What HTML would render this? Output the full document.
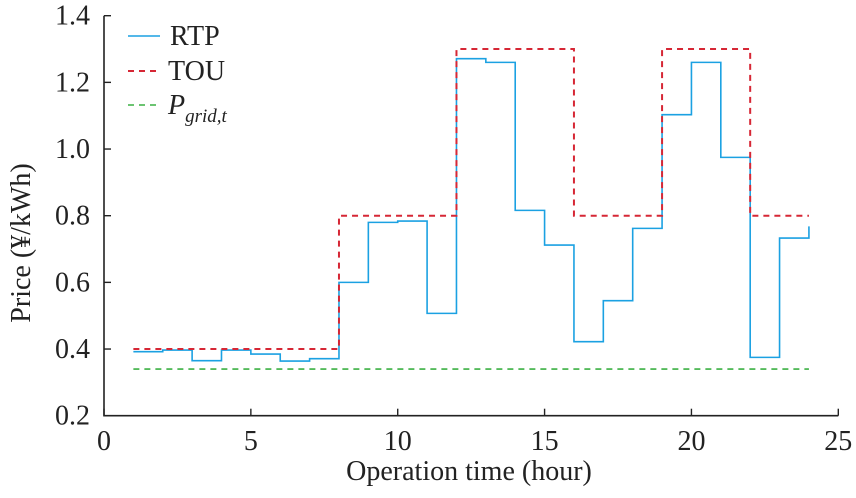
<!DOCTYPE html>
<html><head><meta charset="utf-8"><style>
html,body{margin:0;padding:0;background:#fff;}
svg text{font-family:"Liberation Serif","Times New Roman",Times,serif;}
</style></head><body>
<svg id="chart" width="856" height="493" viewBox="0 0 856 493" font-family="Liberation Serif, Times New Roman, serif">
<g id="axes"></g>
<g id="series"></g>
<g id="legend">
  <line x1="128" y1="36" x2="160" y2="36" stroke="#1ba1e2" stroke-width="1.6"/>
  <text x="170" y="45" font-size="28" fill="#222">RTP</text>
  <line x1="128" y1="71" x2="160" y2="71" stroke="#d62735" stroke-width="2" stroke-dasharray="6,5"/>
  <text x="168" y="80" font-size="28" fill="#222">TOU</text>
  <line x1="128" y1="105" x2="160" y2="105" stroke="#3cb043" stroke-width="1.6" stroke-dasharray="6,5"/>
  <text x="168" y="114" font-size="28" font-style="italic" fill="#222">P<tspan font-size="19" dy="8">grid,t</tspan></text>
</g>
<text x="469" y="480" font-size="28" text-anchor="middle" fill="#222">Operation time (hour)</text>
<text transform="translate(30,243) rotate(-90)" font-size="28" text-anchor="middle" fill="#222">Price (¥/kWh)</text>
</svg>
<script>
const hours = [1,2,3,4,5,6,7,8,9,10,11,12,13,14,15,16,17,18,19,20,21,22,23,24];
const rtp = [0.392,0.397,0.365,0.397,0.385,0.364,0.371,0.600,0.780,0.784,0.507,1.271,1.260,0.816,0.712,0.422,0.545,0.762,1.103,1.260,0.975,0.375,0.733,0.768];
const tou = [0.4,0.4,0.4,0.4,0.4,0.4,0.4,0.8,0.8,0.8,0.8,1.3,1.3,1.3,1.3,0.8,0.8,0.8,1.3,1.3,1.3,0.8,0.8,0.8];
const gridPrice = [0.34,0.34,0.34,0.34,0.34,0.34,0.34,0.34,0.34,0.34,0.34,0.34,0.34,0.34,0.34,0.34,0.34,0.34,0.34,0.34,0.34,0.34,0.34,0.34];
const xTicks = [0,5,10,15,20,25];
const yTicks = [0.2,0.4,0.6,0.8,1.0,1.2,1.4];

const NS = "http://www.w3.org/2000/svg";
const X0 = 104, X1 = 838.3, Y0 = 415.7, Y1 = 15.7;
const xMin = 0, xMax = 25, yMin = 0.2, yMax = 1.4;
function sx(v){ return X0 + (v - xMin) / (xMax - xMin) * (X1 - X0); }
function sy(v){ return Y0 - (v - yMin) / (yMax - yMin) * (Y0 - Y1); }

const axes = document.getElementById('axes');
const series = document.getElementById('series');
function mk(tag, attrs, parent){
  const el = document.createElementNS(NS, tag);
  for (const k in attrs) el.setAttribute(k, attrs[k]);
  parent.appendChild(el);
  return el;
}
let a = mk('path', {d:`M${X0},${Y1} V${Y0} H${X1}`, fill:'none', stroke:'#222', 'stroke-width':1.6}, axes);


xTicks.forEach(t => {
  const x = sx(t);
  const tk = mk('line', {x1:x, x2:x, y1:Y0, y2:Y0-7, stroke:'#222', 'stroke-width':1.4}, axes);
  
  
  const lb = mk('text', {x:x, y:450, 'font-size':28, 'text-anchor':'middle', fill:'#222'}, axes);
  lb.textContent = String(t);
  
  
});
yTicks.forEach(t => {
  const y = sy(t);
  const tk = mk('line', {x1:X0, x2:X0+7, y1:y, y2:y, stroke:'#222', 'stroke-width':1.4}, axes);
  
  
  const lb = mk('text', {x:90, y:y+9, 'font-size':28, 'text-anchor':'end', fill:'#222'}, axes);
  lb.textContent = t.toFixed(1);
  
  
});
function stairs(vals){
  let d = `M${sx(hours[0])},${sy(vals[0])}`;
  for (let i = 1; i < hours.length; i++){
    d += ` H${sx(hours[i])} V${sy(vals[i])}`;
  }
  return d;
}
let g = mk('path', {d:`M${sx(hours[0])},${sy(gridPrice[0])} ` + gridPrice.slice(1).map((v,i)=>`L${sx(hours[i+1])},${sy(v)}`).join(' '), fill:'none', stroke:'#3cb043', 'stroke-width':1.6, 'stroke-dasharray':'6,5'}, series);


let r = mk('path', {d:stairs(rtp), fill:'none', stroke:'#1ba1e2', 'stroke-width':1.6}, series);


let t = mk('path', {d:stairs(tou), fill:'none', stroke:'#d62735', 'stroke-width':2, 'stroke-dasharray':'6,5'}, series);


</script>
</body></html>
